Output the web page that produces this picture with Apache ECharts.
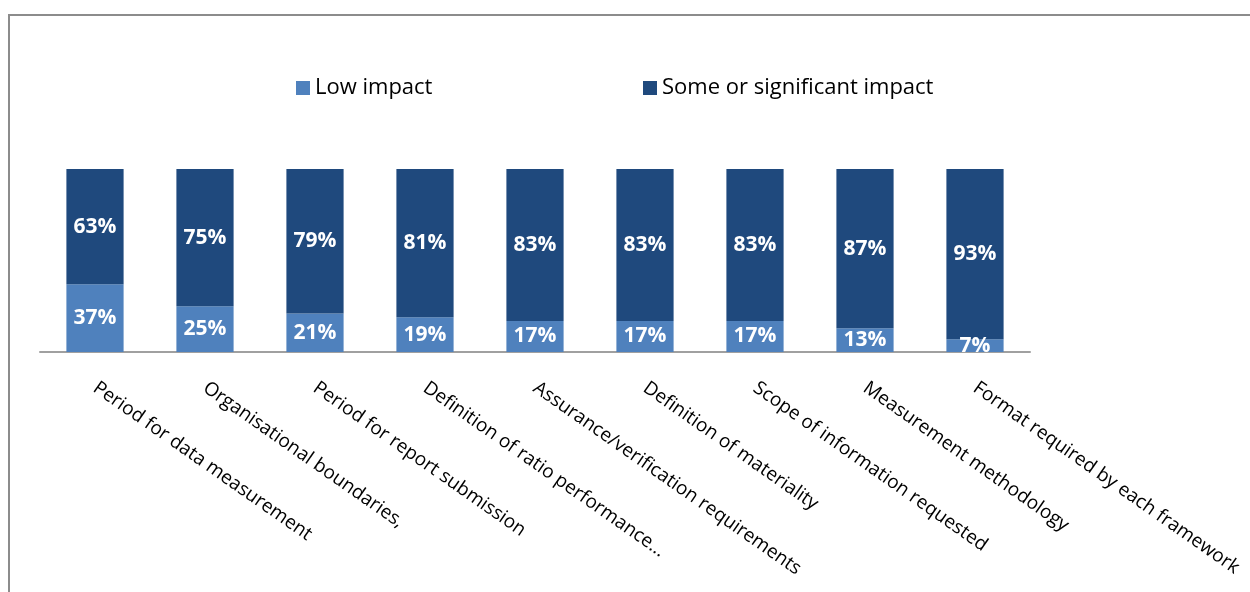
<!DOCTYPE html>
<html>
<head>
<meta charset="utf-8">
<script src="https://cdn.jsdelivr.net/npm/echarts@6/dist/echarts.min.js"></script>
<style>
html, body { margin: 0; padding: 0; background: #fff; }
#chart { width: 1250px; height: 592px; }
</style>
</head>
<body>
<div id="chart"></div>
<script>
var chart = echarts.init(document.getElementById('chart'));

var categories = [
    'Period for data measurement',
    'Organisational boundaries,',
    'Period for report submission',
    'Definition of ratio performance...',
    'Assurance/verification requirements',
    'Definition of materiality',
    'Scope of information requested',
    'Measurement methodology',
    'Format required by each framework'
];
var lowImpact = [37, 25, 21, 19, 17, 17, 17, 13, 7];
var someImpact = [63, 75, 79, 81, 83, 83, 83, 87, 93];

var font = "'Open Sans', sans-serif";

var barLabel = {
    show: true,
    position: 'inside',
    color: '#fff',
    fontWeight: 'bold',
    fontSize: 21,
    fontFamily: font,
    formatter: '{c}%'
};

option = {
    animation: false,
    graphic: [{
        type: 'rect',
        shape: { x: 9, y: 15, width: 1400, height: 800 },
        style: { fill: 'none', stroke: '#8c8c8c', lineWidth: 2 }
    }],
    legend: [{
        data: ['Low impact'],
        icon: 'rect',
        left: 291,
        top: 72,
        itemWidth: 14,
        itemHeight: 14,
        textStyle: { fontSize: 22, fontFamily: font, color: '#000' }
    }, {
        data: ['Some or significant impact'],
        icon: 'rect',
        left: 638,
        top: 72,
        itemWidth: 14,
        itemHeight: 14,
        textStyle: { fontSize: 22, fontFamily: font, color: '#000' }
    }],
    grid: {
        left: 40,
        right: 220,
        top: 169,
        bottom: 240
    },
    xAxis: {
        type: 'category',
        data: categories,
        axisLine: { lineStyle: { color: '#a0a0a0', width: 2 } },
        axisTick: { show: false },
        axisLabel: {
            interval: 0,
            rotate: -35,
            margin: 34,
            color: '#000',
            fontSize: 19,
            fontFamily: font
        }
    },
    yAxis: {
        type: 'value',
        min: 0,
        max: 100,
        show: false
    },
    series: [
        {
            name: 'Low impact',
            type: 'bar',
            stack: 'total',
            barWidth: '52%',
            data: lowImpact,
            itemStyle: { color: '#4f81bd' },
            label: barLabel
        },
        {
            name: 'Some or significant impact',
            type: 'bar',
            stack: 'total',
            barWidth: '52%',
            data: someImpact,
            itemStyle: { color: '#1f497d' },
            label: barLabel
        }
    ]
};

chart.setOption(option);
</script>
</body>
</html>
